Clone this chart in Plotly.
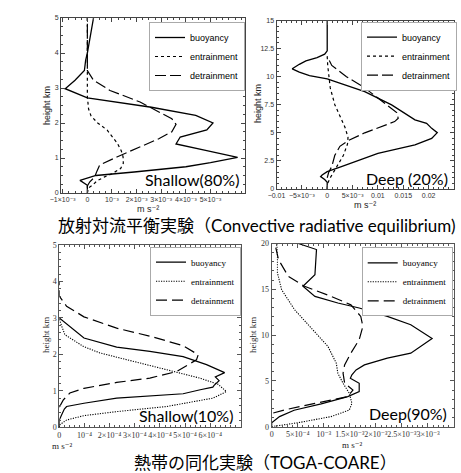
import plotly.graph_objects as go

W, H = 461, 473

# ---------------- Data ----------------
# Panel 1: Shallow (80%), radiative-convective equilibrium; values in 1e-3 m s^-2
p1_scale = 1e-3
p1_buoy_h = [0, 0.15, 0.22, 0.36, 0.5, 0.6, 0.75, 0.87, 1.02, 1.22, 1.4, 1.6, 1.8, 2.0, 2.22, 2.45, 2.67, 2.72, 2.98, 3.22, 3.5, 3.79, 4.0, 4.5, 5.0]
p1_buoy = [0, 0, 0, -0.3, 0.35, 1.9, 4.0, 5.0, 6.1, 4.8, 3.6, 3.77, 4.85, 5.1, 4.4, 2.6, 0.3, 0, -0.9, -0.5, -0.12, -0.07, 0, 0.12, 0.25]
p1_entr_h = [0, 0.15, 0.22, 0.35, 0.46, 0.55, 0.7, 0.85, 1.03, 1.2, 1.42, 1.6, 1.8, 2.0, 2.2, 2.4, 2.75, 3.5, 5.0]
p1_entr = [0, 0.05, 0.2, 0.4, 0.7, 1.0, 1.35, 1.46, 1.45, 1.38, 1.22, 1.02, 0.8, 0.42, 0.15, 0.05, 0, 0, 0]
p1_detr_h = [0.15, 0.2, 0.32, 0.46, 0.61, 0.8, 1.03, 1.32, 1.55, 1.75, 1.96, 2.12, 2.36, 2.6, 2.93, 3.22, 3.5, 5.0]
p1_detr = [0, 0, 0.1, 0.3, 0.38, 0.5, 1.2, 2.14, 2.9, 3.43, 3.6, 3.43, 2.8, 2.14, 0.92, 0.25, 0, 0]

# Panel 2: Deep (20%), radiative-convective equilibrium; values in 1e-2 m s^-2
p2_scale = 1e-2
p2_buoy_h = [0, 0.6, 0.85, 1.1, 1.25, 1.54, 1.99, 2.43, 3.18, 3.92, 4.5, 5.02, 5.4, 5.85, 6.15, 7.49, 8.67, 9.8, 10.1, 10.4, 10.7, 11.1, 11.4, 11.7, 12.0, 12.3, 15.0]
p2_buoy = [0, 0, -0.05, -0.13, -0.1, 0, 0.28, 0.54, 1.0, 1.73, 2.06, 2.17, 2.06, 1.96, 1.73, 1.27, 0.74, 0, -0.35, -0.55, -0.69, -0.55, -0.42, -0.2, -0.05, 0, 0]
p2_entr_h = [0, 0.5, 1.0, 2.0, 3.0, 4.0, 4.6, 5.5, 6.5, 7.5, 9.0, 10.0, 11.0, 11.8]
p2_entr = [0, 0.01, 0.06, 0.19, 0.32, 0.4, 0.41, 0.35, 0.25, 0.15, 0.06, 0.03, 0.01, 0]
p2_detr_h = [1.0, 1.5, 2.0, 3.0, 3.8, 4.3, 5.0, 6.0, 6.3, 6.8, 7.5, 8.5, 9.0, 10.0, 11.0, 11.8]
p2_detr = [0, 0.03, 0.09, 0.15, 0.25, 0.41, 0.74, 1.33, 1.4, 1.37, 1.17, 0.87, 0.74, 0.38, 0.09, 0]

# Panel 3: Shallow (10%), TOGA-COARE; values in 1e-4 m s^-2
p3_scale = 1e-4
p3_buoy_h = [0, 0.2, 0.34, 0.5, 0.57, 0.66, 0.8, 0.92, 1.03, 1.1, 1.15, 1.28, 1.38, 1.5, 1.72, 1.94, 2.08, 2.2, 2.45, 2.77, 3.0]
p3_buoy = [0, 0, 0.09, 0.2, 0.29, 0.98, 2.28, 4.92, 5.6, 6.1, 6.15, 6.35, 6.2, 6.57, 5.85, 4.92, 3.6, 2.28, 0.98, 0.42, 0]
p3_entr_h = [0, 0.06, 0.2, 0.32, 0.43, 0.57, 0.8, 0.98, 1.18, 1.35, 1.58, 1.81, 2.04, 2.22, 2.54, 2.9, 3.0]
p3_entr = [0, 0, 0.29, 0.98, 2.28, 4.26, 6.11, 6.64, 6.31, 5.58, 4.26, 2.94, 1.61, 0.95, 0.22, 0.03, 0]
p3_detr_h = [0.55, 0.75, 0.94, 1.07, 1.23, 1.35, 1.53, 1.85, 1.99, 2.24, 2.5, 2.72, 3.03, 3.32, 3.6, 4.0]
p3_detr = [0, 0.16, 0.42, 0.98, 2.28, 3.6, 4.66, 5.45, 5.52, 4.92, 3.6, 2.28, 0.98, 0.29, 0, 0]

# Panel 4: Deep (90%), TOGA-COARE; values in 1e-3 m s^-2
p4_scale = 1e-3
p4_buoy_h = [0, 0.43, 1.1, 1.8, 2.5, 3.28, 3.83, 4.74, 5.3, 5.66, 6.2, 6.75, 7.48, 8.03, 9.64, 11.13, 12.04, 12.96, 13.5, 14.23, 15.33, 16.6, 19.34, 20.0]
p4_buoy = [0, 0, 0.15, 0.43, 0.95, 1.46, 1.68, 1.68, 1.51, 1.54, 1.62, 1.78, 2.22, 2.67, 3.08, 2.67, 2.22, 1.68, 1.27, 0.83, 0.6, 0.83, 0.86, 0.51]
p4_entr_h = [0, 0.44, 1.1, 1.82, 2.55, 3.65, 4.74, 5.84, 6.93, 8.76, 10.58, 12.77, 14.96, 16.8, 18.6, 20.0]
p4_entr = [0, 0.51, 1.14, 1.49, 1.54, 1.49, 1.37, 1.27, 1.24, 1.08, 0.79, 0.44, 0.19, 0.11, 0.11, 0.1]
p4_detr_h = [1.5, 1.9, 2.55, 3.28, 4.0, 4.74, 5.84, 6.75, 8.03, 9.5, 10.95, 12.04, 13.3, 14.23, 15.33, 16.4, 18.25, 20.0]
p4_detr = [0.03, 0.3, 0.83, 1.46, 1.56, 1.40, 1.37, 1.40, 1.52, 1.68, 1.75, 1.71, 1.52, 1.14, 0.63, 0.32, 0.13, 0.06]

series_names = ["buoyancy", "entrainment", "detrainment"]

p1_xticks = [-1e-3, 0, 1e-3, 2e-3, 3e-3, 4e-3, 5e-3]
p1_xlabels = ["−1×10⁻³", "0", "10⁻³", "2×10⁻³", "3×10⁻³", "4×10⁻³", "5×10⁻³"]
p2_xticks = [-0.01, -0.005, 0, 0.005, 0.01, 0.015, 0.02, 0.025]
p2_xlabels = ["−0.01", "−5×10⁻³", "0", "5×10⁻³", "0.01", "0.015", "0.02", "0.025"]
p2_yticks = [0, 2.5, 5, 7.5, 10, 12.5, 15]
p2_ylabels = ["0", "2.5", "5", "7.5", "10", "12.5", "15"]
p3_xticks = [0, 1e-4, 2e-4, 3e-4, 4e-4, 5e-4, 6e-4]
p3_xlabels = ["0", "10⁻⁴", "2×10⁻⁴", "3×10⁻⁴", "4×10⁻⁴", "5×10⁻⁴", "6×10⁻⁴"]
p4_xticks = [0, 5e-4, 1e-3, 1.5e-3, 2e-3, 2.5e-3, 3e-3]
p4_xlabels = ["0", "5×10⁻⁴", "10⁻³", "1.5×10⁻³", "2×10⁻³", "2.5×10⁻³", "3×10⁻³"]

panel_labels = ["Shallow(80%)", "Deep (20%)", "Shallow(10%)", "Deep(90%)"]
caption_top = "放射対流平衡実験（Convective radiative equilibrium)"
caption_bottom = "熱帯の同化実験（TOGA-COARE）"
y_title = "height km"
x_title = "m s⁻²"

# ---------------- Figure ----------------
SANS = "Liberation Sans, Arial, DejaVu Sans, sans-serif"
SERIF = "Liberation Serif, Times New Roman, DejaVu Serif, serif"
BIG = "Lato, Noto Sans CJK JP, sans-serif"

fig = go.Figure()

top_styles = [dict(color="black", width=1.3, dash="solid"),
              dict(color="black", width=1.2, dash="3px,3px"),
              dict(color="black", width=1.2, dash="11px,4px")]
bot_styles = [dict(color="black", width=1.2, dash="solid"),
              dict(color="black", width=1.1, dash="1.2px,1.3px"),
              dict(color="black", width=1.2, dash="11px,5px")]

panels = [
    (1, p1_scale, [(p1_buoy, p1_buoy_h), (p1_entr, p1_entr_h), (p1_detr, p1_detr_h)], top_styles, "legend"),
    (2, p2_scale, [(p2_buoy, p2_buoy_h), (p2_entr, p2_entr_h), (p2_detr, p2_detr_h)], top_styles, "legend2"),
    (3, p3_scale, [(p3_buoy, p3_buoy_h), (p3_entr, p3_entr_h), (p3_detr, p3_detr_h)], bot_styles, "legend3"),
    (4, p4_scale, [(p4_buoy, p4_buoy_h), (p4_entr, p4_entr_h), (p4_detr, p4_detr_h)], bot_styles, "legend4"),
]

for idx, scale, series, styles, leg in panels:
    sfx = "" if idx == 1 else str(idx)
    for name, (vals, hts), st in zip(series_names, series, styles):
        fig.add_trace(go.Scatter(
            x=[v * scale for v in vals], y=hts, mode="lines", name=name,
            line=st, xaxis="x" + sfx, yaxis="y" + sfx, legend=leg,
            showlegend=True, hoverinfo="skip"))

def px_dom_x(a, b):
    return [a / W, b / W]

def px_dom_y(top, bottom):
    return [1 - bottom / H, 1 - top / H]

def axis_common(font_family, font_size, linecolor):
    return dict(showgrid=False, zeroline=False, showline=True, linecolor=linecolor,
                linewidth=1, mirror="allticks", ticks="inside", ticklen=4,
                tickcolor=linecolor, tickwidth=1, tickangle=0, automargin=False,
                tickfont=dict(family=font_family, size=font_size, color="#333"))

top_ax = axis_common(SANS, 7, "#444")
bot_ax = axis_common(SERIF, 8, "#555")

fig.update_layout(
    xaxis=dict(domain=px_dom_x(61, 245), anchor="y", range=[-1.07e-3, 6.4e-3],
               tickmode="array", tickvals=p1_xticks, ticktext=p1_xlabels,
               minor=dict(ticks="inside", ticklen=2, tickmode="linear", tick0=0, dtick=2.5e-4, tickcolor="#444"),
               **top_ax),
    yaxis=dict(domain=px_dom_y(18, 193), anchor="x", range=[0, 5], dtick=1,
               minor=dict(ticks="inside", ticklen=2, dtick=0.25, tickcolor="#444"),
               **top_ax),
    xaxis2=dict(domain=px_dom_x(276.5, 454), anchor="y2", range=[-0.01, 0.025],
                tickmode="array", tickvals=p2_xticks, ticktext=p2_xlabels,
                minor=dict(ticks="inside", ticklen=2, tickmode="linear", tick0=0, dtick=0.001, tickcolor="#444"),
                **top_ax),
    yaxis2=dict(domain=px_dom_y(20.5, 189), anchor="x2", range=[0, 15],
                tickmode="array", tickvals=p2_yticks, ticktext=p2_ylabels,
                minor=dict(ticks="inside", ticklen=2, tickmode="linear", tick0=0, dtick=0.5, tickcolor="#444"),
                **top_ax),
    xaxis3=dict(domain=px_dom_x(59.3, 240.5), anchor="y3", range=[0, 7.2e-4],
                tickmode="array", tickvals=p3_xticks, ticktext=p3_xlabels,
                minor=dict(ticks="inside", ticklen=2, tickmode="linear", tick0=0, dtick=2e-5, tickcolor="#555"),
                **bot_ax),
    yaxis3=dict(domain=px_dom_y(245, 427.3), anchor="x3", range=[0, 5], dtick=1,
                minor=dict(ticks="inside", ticklen=2, dtick=0.2, tickcolor="#555"),
                **bot_ax),
    xaxis4=dict(domain=px_dom_x(271.7, 454), anchor="y4", range=[0, 3.5e-3],
                tickmode="array", tickvals=p4_xticks, ticktext=p4_xlabels,
                minor=dict(ticks="inside", ticklen=2, tickmode="linear", tick0=0, dtick=1e-4, tickcolor="#555"),
                **bot_ax),
    yaxis4=dict(domain=px_dom_y(243.5, 426.7), anchor="x4", range=[0, 20], dtick=5,
                minor=dict(ticks="inside", ticklen=2, dtick=1, tickcolor="#555"),
                **bot_ax),
)

def legend_cfg(left, top, family):
    return dict(x=left / W, y=1 - top / H, xanchor="left", yanchor="top",
                bgcolor="white", bordercolor="#aaa", borderwidth=1,
                font=dict(family=family, size=9, color="black"),
                tracegroupgap=0, itemwidth=30)

fig.update_layout(
    legend=legend_cfg(149, 22, SANS),
    legend2=legend_cfg(361, 21.7, SANS),
    legend3=legend_cfg(150, 246.7, SERIF),
    legend4=legend_cfg(361.7, 247.3, SERIF),
)

ann = []
# y-axis titles
for (xp, yp, fam) in [(47, 106, SANS), (258, 104, SANS), (46, 335, SERIF), (253, 335, SERIF)]:
    ann.append(dict(text=y_title, x=xp / W, y=1 - yp / H, xref="paper", yref="paper",
                    showarrow=False, textangle=-90, xanchor="center", yanchor="middle",
                    font=dict(family=fam, size=9, color="#222")))
# x-axis titles
for (xp, yp, fam) in [(148, 209, SANS), (365, 205, SANS), (63, 446, SERIF), (352, 445, SERIF)]:
    ann.append(dict(text=x_title, x=xp / W, y=1 - yp / H, xref="paper", yref="paper",
                    showarrow=False, xanchor="center", yanchor="middle",
                    font=dict(family=fam, size=9, color="#222")))
# big panel labels
for lab, (xp, yp) in zip(panel_labels, [(192, 179), (407, 178), (186, 415), (408, 413)]):
    ann.append(dict(text=lab, x=xp / W, y=1 - yp / H, xref="paper", yref="paper",
                    showarrow=False, xanchor="center", yanchor="middle",
                    font=dict(family=BIG, size=16, color="black")))
# captions
ann.append(dict(text=caption_top, x=257 / W, y=1 - 225 / H, xref="paper", yref="paper",
                showarrow=False, xanchor="center", yanchor="middle",
                font=dict(family=BIG, size=17, color="black")))
ann.append(dict(text=caption_bottom, x=265 / W, y=1 - 462 / H, xref="paper", yref="paper",
                showarrow=False, xanchor="center", yanchor="middle",
                font=dict(family=BIG, size=17, color="black")))

fig.update_layout(
    width=W, height=H, margin=dict(l=0, r=0, t=0, b=0),
    paper_bgcolor="white", plot_bgcolor="white",
    annotations=ann, showlegend=True,
)

fig.write_html("out.html", config=dict(displayModeBar=False))
